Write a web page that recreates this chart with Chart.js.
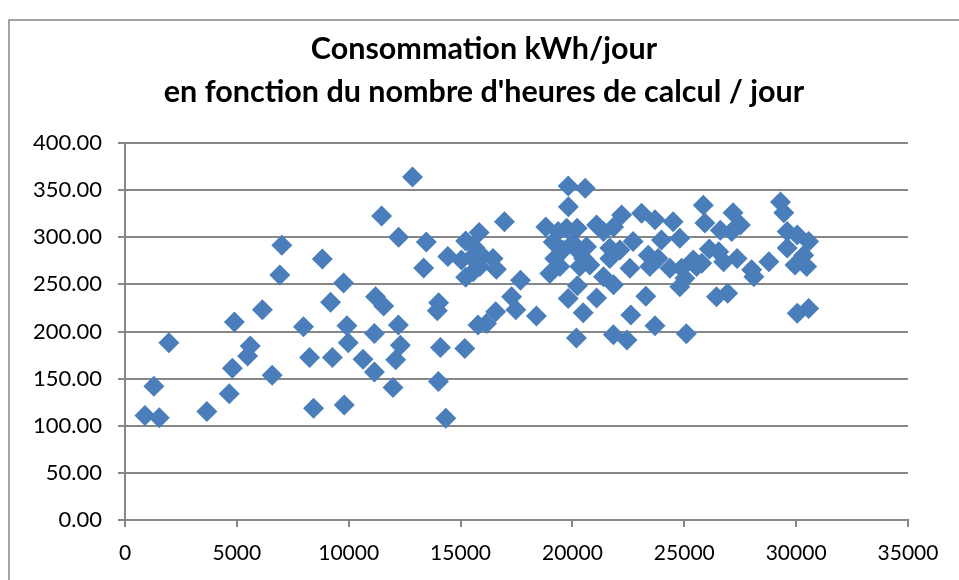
<!DOCTYPE html>
<html>
<head>
<meta charset="utf-8">
<script src="https://cdn.jsdelivr.net/npm/chart.js@4.4.1/dist/chart.umd.min.js"></script>
<style>
html,body{margin:0;padding:0;background:#fff;}
canvas{display:block;}
</style>
</head>
<body>
<canvas id="c" width="959" height="580"></canvas>
<script>
// Title lines
const titleLines = ["Consommation kWh/jour", "en fonction du nombre d'heures de calcul / jour"];
// Tick values
const xTicks = [0, 5000, 10000, 15000, 20000, 25000, 30000, 35000];
const yTicks = [0, 50, 100, 150, 200, 250, 300, 350, 400];
// Series: hours of computation / day (x) and kWh / day (y)
const hours = [890,1530,1290,1960,3660,4660,4800,4890,5480,5600,6140,6580,6920,7010,7980,8250,8430,8820,9190,9270,
  9770,9800,9920,9980,10640,11150,11150,11200,11560,11470,11980,12100,12220,12230,12310,12850,13350,13470,14010,13960,
  14020,14100,14340,14430,15190,15830,15230,15630,15040,15490,16000,16450,16600,15860,15230,15560,16960,15780,16160,16570,
  17280,17470,17680,18390,18810,18990,19140,19360,19740,19580,19210,19440,20020,19810,19820,20570,19810,20220,20180,20480,
  21080,20210,21080,21390,21840,22200,23090,23690,24500,24800,23980,25850,25920,22710,21670,22120,20630,20210,23390,23830,
  21670,20500,24360,25400,25550,24880,22570,23460,20780,20330,26120,21390,21840,24800,25030,23280,22610,23690,21830,22440,
  25090,27180,27510,27120,26610,29300,29450,29600,30050,30560,29600,26540,27360,26760,25780,28780,30340,29950,30470,28010,
  28110,26440,26940,30050,30560];
const kwh = [111,108.5,142,188,115,134,161,210,174,184.5,223,153.5,260,291.5,205,172.5,118.5,277,231,172.5,
  251.5,122,206,188,170.5,198,157,237,227,322.5,140.5,170,207,300,185.5,364,267.5,295,147,222,
  230.5,183,108,279.5,182,305,296,289,276,278.5,279.5,277.5,266,269,257.5,263.5,316.5,207,208.5,221,
  237,223,254.5,216.5,311,261.5,295,306,309.5,286.5,277.5,269,294,354.5,332.5,352,235,248.5,193,220,
  235.5,309.5,313,306,311,323.5,325.5,318.5,316.5,299,297,334,315,295.5,288.5,286.5,290,286.5,281,277.5,
  277.5,277.5,267,276,269,267,267,269,270.5,269,287.5,258,249.5,247.5,256.5,237.5,217.5,206,196.5,191,
  197.5,326,313,306,307.5,337.5,326,306,302.5,295.5,288.5,284.5,277.5,274,272.5,274,281,270.5,269,265.5,
  258,237,240.5,219.5,224.5];

const points = hours.map((h, i) => ({x: h, y: kwh[i]}));
const GRAY = '#878787';

const framePlugin = {
  id: 'frame',
  beforeDraw(chart) {
    const ctx = chart.ctx;
    ctx.save();
    ctx.fillStyle = '#fff';
    ctx.fillRect(0, 0, chart.width, chart.height);
    ctx.strokeStyle = GRAY;
    ctx.lineWidth = 1.5;
    ctx.strokeRect(9, 20, 1200, 1200);
    ctx.restore();
  }
};

Chart.defaults.font.family = 'Lato, "DejaVu Sans", sans-serif';
Chart.defaults.color = '#000';

new Chart(document.getElementById('c'), {
  type: 'scatter',
  data: {
    datasets: [{
      data: points,
      xAxisID: 'x',
      yAxisID: 'y',
      pointStyle: 'rectRot',
      pointRadius: 10.5,
      pointHoverRadius: 10.5,
      backgroundColor: '#4A7EBB',
      borderColor: '#4A7EBB',
      borderWidth: 0
    }]
  },
  options: {
    responsive: false,
    animation: false,
    events: [],
    layout: {padding: {left: 9, top: 20, right: 0, bottom: 0}},
    plugins: {
      legend: {display: false},
      tooltip: {enabled: false},
      title: {
        display: true,
        text: titleLines,
        color: '#000',
        font: {family: 'Lato', size: 30.5, weight: 'bold', lineHeight: 1.41},
        padding: {top: 8, bottom: 29}
      }
    },
    scales: {
      x: {
        type: 'linear',
        min: xTicks[0],
        max: xTicks[xTicks.length - 1],
        afterBuildTicks(scale) { scale.ticks = xTicks.map(v => ({value: v})); },
        afterFit(scale) { scale.height = 60; },
        ticks: {
          font: {size: 21},
          color: '#000',
          padding: 14,
          maxRotation: 0,
          callback: v => String(v)
        },
        grid: {drawOnChartArea: false, drawTicks: true, tickLength: 7, color: GRAY, lineWidth: 2},
        border: {display: true, color: GRAY, width: 2}
      },
      y: {
        position: 'left',
        min: yTicks[0],
        max: yTicks[yTicks.length - 1],
        afterBuildTicks(scale) { scale.ticks = yTicks.map(v => ({value: v})); },
        afterFit(scale) { scale.width = 116; },
        ticks: {
          font: {size: 22},
          color: '#000',
          padding: 16,
          callback: v => Number(v).toFixed(2)
        },
        grid: {drawOnChartArea: true, drawTicks: true, tickLength: 7, color: GRAY, lineWidth: 2},
        border: {display: true, color: GRAY, width: 2}
      },
      yRight: {
        position: 'right',
        display: true,
        min: 0,
        max: 1,
        afterFit(scale) { scale.width = 51; },
        ticks: {display: false},
        grid: {display: false, drawOnChartArea: false, drawTicks: false},
        border: {display: false}
      }
    }
  },
  plugins: [framePlugin]
});
</script>
</body>
</html>
